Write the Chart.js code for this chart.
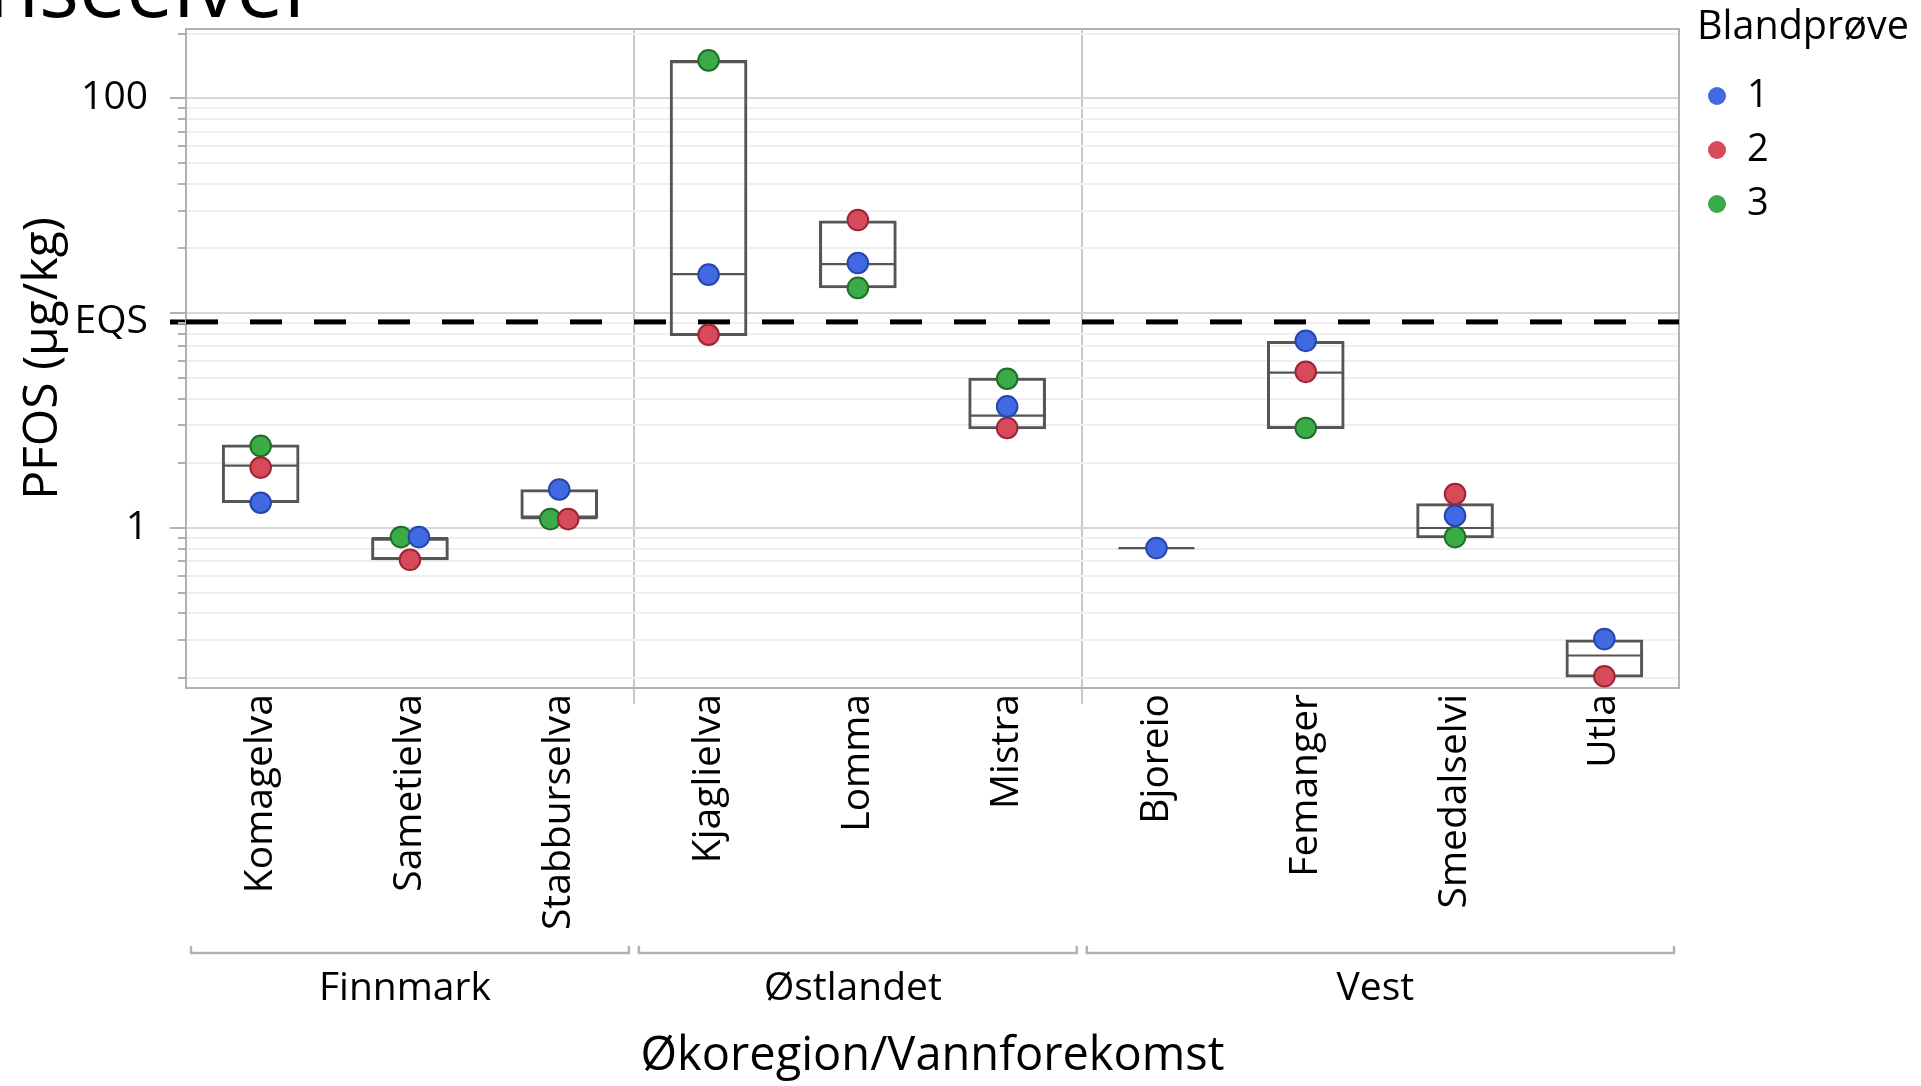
<!DOCTYPE html>
<html lang="no">
<head>
<meta charset="utf-8">
<title>PFOS i referanseelver</title>
<script src="https://cdn.jsdelivr.net/npm/chart.js@4/dist/chart.umd.min.js"></script>
<style>
  html, body { margin: 0; padding: 0; background: #ffffff; overflow: hidden; }
  #wrap { width: 1921px; height: 1086px; position: relative; }
</style>
</head>
<body>
<div id="wrap"><canvas id="chart"></canvas></div>
<script>
// ---- data ---------------------------------------------------------------
const chartTitle = 'Referanseelver';
const yAxisTitle = 'PFOS (µg/kg)';
const xAxisTitle = 'Økoregion/Vannforekomst';
const legendTitle = 'Blandprøve';

const regions = ['Finnmark', 'Østlandet', 'Vest'];
const sites = ['Komagelva', 'Sametielva', 'Stabburselva', 'Kjaglielva', 'Lomma',
               'Mistra', 'Bjoreio', 'Femanger', 'Smedalselvi', 'Utla'];
const siteRegion = [0, 0, 0, 1, 1, 1, 2, 2, 2, 2];

// PFOS per composite sample (Blandprøve 1, 2, 3); null = no sample
const sampleNames = ['1', '2', '3'];
const sample1 = [1.31, 0.907, 1.51, 15.1, 17.1, 3.68, 0.806, 7.43, 1.14, 0.304];
const sample2 = [1.91, 0.711, 1.10, 7.93, 27.1, 2.92, null, 5.33, 1.44, 0.204];
const sample3 = [2.41, 0.907, 1.10, 150, 13.1, 4.95, null, 2.92, 0.907, null];

// box summaries per site
const boxLow    = [1.31, 0.711, 1.11, 7.85, 13.1, 2.89, 0.806, 2.90, 0.898, 0.202];
const boxMedian = [1.95, 0.898, 1.11, 15.2, 16.9, 3.33, 0.806, 5.28, 1.00, 0.255];
const boxHigh   = [2.44, 0.898, 1.51, 150, 26.9, 4.99, 0.806, 7.40, 1.30, 0.302];

// environmental quality standard
const eqsValue = 9.1;
const eqsLabel = 'EQS';

// y axis
const yMin = 0.18;
const yMax = 210;
const yMajorTicks = [1, 10, 100];
const yLabelledTicks = [1, 100];

// ---- styling ------------------------------------------------------------
const FONT = "'Open Sans', 'Noto Sans', sans-serif";
const fillColors = ['#4169e1', '#d64a5a', '#3bab47'];
const edgeColors = ['#2446ad', '#9b2535', '#1f6d29'];
const boxColor = '#555555';
const frameColor = '#b2b2b2';
const majorGrid = '#d8d8d8';
const minorGrid = '#efefef';

Chart.defaults.font.family = FONT;
Chart.defaults.color = '#000000';

const samples = [sample1, sample2, sample3];
const near = (a, b) => Math.abs(a - b) < 1e-9;

// minor log ticks 2..9 of every decade inside the range
const yMinorTicks = [];
[0.1, 1, 10, 100].forEach(d => {
  for (let m = 2; m <= 9; m++) {
    const v = d * m;
    if (v >= yMin && v <= yMax) yMinorTicks.push(v);
  }
});
const yTickValues = [...yMajorTicks, ...yMinorTicks, eqsValue].sort((a, b) => a - b);
const isMajor = v => yMajorTicks.some(t => near(t, v));
const isEqs = v => near(v, eqsValue);

// x ticks: one per site plus the region separators
const separators = [];
for (let i = 1; i < sites.length; i++) {
  if (siteRegion[i] !== siteRegion[i - 1]) separators.push(i - 0.5);
}
const xTickValues = [...sites.map((s, i) => i), ...separators].sort((a, b) => a - b);
const isSeparator = v => separators.some(t => near(t, v));

// points with (almost) equal values at a site are spread sideways
const dodgeStep = 0.12;
function pointX(site, k) {
  const v = samples[k][site];
  const tied = samples
    .map((arr, j) => j)
    .filter(j => samples[j][site] != null &&
                 Math.abs(Math.log10(samples[j][site]) - Math.log10(v)) < 0.02)
    .sort((a, b) => b - a);
  const pos = tied.indexOf(k);
  return site + (pos - (tied.length - 1) / 2) * dodgeStep;
}

const pointSets = samples.map((arr, k) => ({
  type: 'scatter',
  label: sampleNames[k],
  data: arr.map((v, i) => (v == null ? null : { x: pointX(i, k), y: v })).filter(Boolean),
  pointBackgroundColor: fillColors[k],
  pointBorderColor: edgeColors[k],
  backgroundColor: fillColors[k],
  borderColor: edgeColors[k],
  pointBorderWidth: 2,
  pointRadius: 10.3,
  order: k
}));

const medianSet = {
  type: 'scatter',
  label: 'median',
  data: boxMedian.map((v, i) => ({ x: i, y: v })),
  pointStyle: 'line',
  pointRadius: 38,
  pointBorderColor: boxColor,
  pointBorderWidth: 2.2,
  order: 3
};

const boxSet = {
  type: 'bar',
  label: 'box',
  data: sites.map((s, i) => ({ x: i, y: [boxLow[i], boxHigh[i]] })),
  backgroundColor: 'rgba(0,0,0,0)',
  borderColor: boxColor,
  borderWidth: 2.4,
  borderSkipped: false,
  barThickness: 77,
  order: 4
};

const eqsSet = {
  type: 'line',
  label: eqsLabel,
  data: [{ x: -0.5, y: eqsValue }, { x: sites.length - 0.5, y: eqsValue }],
  borderColor: '#000000',
  borderWidth: 5,
  borderDash: [32, 32],
  pointRadius: 0,
  order: 5
};

// frame, short minor ticks, region brackets, legend and heading
const decorations = {
  id: 'decorations',
  beforeDatasetsDraw(chart) {
    const { ctx, chartArea: a, scales: { y } } = chart;
    ctx.save();
    ctx.strokeStyle = frameColor;
    ctx.lineWidth = 2;
    yMinorTicks.forEach(v => {
      const py = Math.round(y.getPixelForValue(v));
      ctx.beginPath();
      ctx.moveTo(a.left - 8, py);
      ctx.lineTo(a.left, py);
      ctx.stroke();
    });
    ctx.strokeRect(a.left, a.top, a.right - a.left, a.bottom - a.top);
    ctx.restore();
  },
  afterDraw(chart) {
    const { ctx, scales: { x } } = chart;
    ctx.save();
    // region brackets and names
    const bracketY = 953;
    ctx.strokeStyle = frameColor;
    ctx.lineWidth = 2.5;
    ctx.fillStyle = '#000000';
    ctx.font = `39px ${FONT}`;
    ctx.textAlign = 'center';
    ctx.textBaseline = 'alphabetic';
    regions.forEach((name, g) => {
      const idx = sites.map((s, i) => i).filter(i => siteRegion[i] === g);
      const x0 = x.getPixelForValue(Math.min(...idx) - 0.5) + 5;
      const x1 = x.getPixelForValue(Math.max(...idx) + 0.5) - 5;
      ctx.beginPath();
      ctx.moveTo(x0, bracketY - 7);
      ctx.lineTo(x0, bracketY);
      ctx.lineTo(x1, bracketY);
      ctx.lineTo(x1, bracketY - 7);
      ctx.stroke();
      ctx.fillText(name, (x0 + x1) / 2 - 5, 1000);
    });

    // legend
    ctx.textAlign = 'left';
    ctx.font = `39.5px ${FONT}`;
    ctx.fillText(legendTitle, 1697, 39);
    ctx.font = `38px ${FONT}`;
    ctx.textBaseline = 'middle';
    pointSets.forEach((ds, k) => {
      const cy = 96 + k * 54;
      ctx.beginPath();
      ctx.arc(1717, cy, 9, 0, Math.PI * 2);
      ctx.fillStyle = fillColors[k];
      ctx.fill();
      ctx.fillStyle = '#000000';
      ctx.fillText(ds.label, 1747, cy);
    });

    // heading
    ctx.textAlign = 'right';
    ctx.textBaseline = 'alphabetic';
    ctx.font = `84px ${FONT}`;
    ctx.fillText(chartTitle, 318, 17);
    ctx.restore();
  }
};

new Chart(document.getElementById('chart'), {
  type: 'scatter',
  data: { datasets: [...pointSets, medianSet, boxSet, eqsSet] },
  plugins: [decorations],
  options: {
    responsive: true,
    maintainAspectRatio: false,
    animation: false,
    events: [],
    layout: { autoPadding: false, padding: { top: 29, right: 242, bottom: 0, left: 0 } },
    plugins: { legend: { display: false }, tooltip: { enabled: false }, title: { display: false } },
    scales: {
      x: {
        type: 'linear',
        min: -0.5,
        max: sites.length - 0.5,
        offset: false,
        afterBuildTicks: s => { s.ticks = xTickValues.map(v => ({ value: v })); },
        afterFit: s => {
          s.height = 398;
          s.paddingLeft = 0; s.paddingRight = 0;
        },
        ticks: {
          callback: v => (Number.isInteger(v) ? sites[v] : ''),
          minRotation: 90,
          maxRotation: 90,
          autoSkip: false,
          padding: -10,
          color: '#000000',
          font: { size: 39 }
        },
        grid: {
          offset: false,
          color: c => (c.tick && isSeparator(c.tick.value) ? '#c8c8c8' : 'rgba(0,0,0,0)'),
          tickColor: c => (c.tick && isSeparator(c.tick.value) ? '#c8c8c8' : 'rgba(0,0,0,0)'),
          lineWidth: 2,
          tickLength: 16
        },
        border: { display: false },
        title: {
          display: true,
          text: xAxisTitle,
          color: '#000000',
          font: { size: 47 },
          padding: { top: 0, bottom: 1 }
        }
      },
      y: {
        type: 'logarithmic',
        position: 'left',
        min: yMin,
        max: yMax,
        afterBuildTicks: s => { s.ticks = yTickValues.map(v => ({ value: v })); },
        afterFit: s => {
          s.width = 186;
          s.paddingTop = 0; s.paddingBottom = 0;
        },
        ticks: {
          autoSkip: false,
          padding: 22,
          color: '#000000',
          font: { size: 39 },
          callback: v => {
            if (isEqs(v)) return eqsLabel;
            if (yLabelledTicks.some(t => near(t, v))) return String(v);
            return '';
          }
        },
        grid: {
          color: c => {
            const v = c.tick ? c.tick.value : 0;
            if (isEqs(v)) return 'rgba(0,0,0,0)';
            return isMajor(v) ? majorGrid : minorGrid;
          },
          lineWidth: 2,
          tickLength: 16,
          tickColor: c => {
            const v = c.tick ? c.tick.value : 0;
            if (isEqs(v)) return '#000000';
            return isMajor(v) ? frameColor : 'rgba(0,0,0,0)';
          },
          tickWidth: c => (c.tick && isEqs(c.tick.value) ? 5 : 2)
        },
        border: { display: false },
        title: {
          display: true,
          text: yAxisTitle,
          color: '#000000',
          font: { size: 48 },
          padding: { top: 15, bottom: 0 }
        }
      }
    }
  }
});
</script>
</body>
</html>
